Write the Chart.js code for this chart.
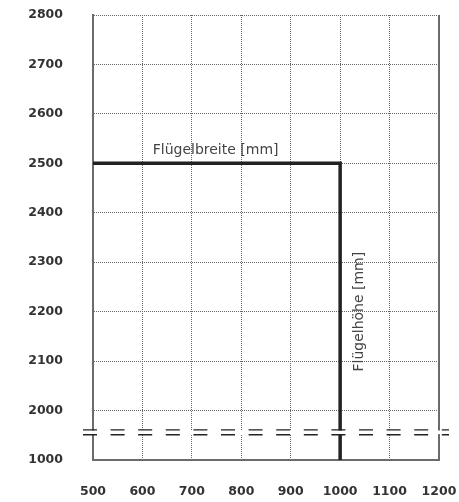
<!DOCTYPE html>
<html>
<head>
<meta charset="utf-8">
<script src="https://cdn.jsdelivr.net/npm/chart.js@4"></script>
<style>
  html, body { margin: 0; padding: 0; background: #fff; }
  #wrap { width: 459px; height: 502px; position: relative; }
</style>
</head>
<body>
<div id="wrap"><canvas id="c" width="459" height="502"></canvas></div>
<script>
// ---- data ----
const xTickValues = [500, 600, 700, 800, 900, 1000, 1100, 1200];
const yLabels = ['2800', '2700', '2600', '2500', '2400', '2300', '2200', '2100', '2000', '1000'];
const breiteValues = [500, 1000, 1000];          // Flügelbreite [mm]
const hoeheValues = ['2500', '2500', '1000'];    // Flügelhöhe [mm]
const labelBreite = 'Flügelbreite [mm]';
const labelHoehe = 'Flügelhöhe [mm]';

const tickFont = { family: '"DejaVu Sans", sans-serif', size: 12.5, weight: 'bold' };
const gridColor = '#666';
const axisColor = '#6b6b6b';

const overlayPlugin = {
  id: 'overlay',
  afterDraw(chart) {
    const ctx = chart.ctx;
    const xs = chart.scales.x, ys = chart.scales.y;
    const area = chart.chartArea;
    ctx.save();
    // right border (solid)
    ctx.strokeStyle = axisColor;
    ctx.lineWidth = 2;
    ctx.beginPath();
    ctx.moveTo(area.right, area.top);
    ctx.lineTo(area.right, area.bottom);
    ctx.stroke();

    // axis labels
    ctx.fillStyle = '#444';
    ctx.font = '14px "DejaVu Sans", sans-serif';
    ctx.textAlign = 'center';
    ctx.textBaseline = 'alphabetic';
    ctx.fillText(labelBreite, xs.getPixelForValue(748), ys.getPixelForValue('2500') - 9);

    ctx.save();
    ctx.translate(xs.getPixelForValue(1000) + 19, ys.getPixelForValue(6.0));
    ctx.rotate(-Math.PI / 2);
    ctx.textBaseline = 'middle';
    ctx.fillText(labelHoehe, 0, 0);
    ctx.restore();

    // axis break
    const p8 = ys.getPixelForValue(8), p9 = ys.getPixelForValue(9);
    const y1 = p8 + 0.39 * (p9 - p8);
    const y2 = p8 + 0.49 * (p9 - p8);
    ctx.fillStyle = '#fff';
    ctx.fillRect(78, y1 + 0.7, 380, (y2 - y1) - 1.4);
    ctx.strokeStyle = '#222';
    ctx.lineWidth = 1.4;
    ctx.setLineDash([14, 13.6]);
    [y1, y2].forEach(y => {
      ctx.beginPath();
      ctx.moveTo(83, y);
      ctx.lineTo(449, y);
      ctx.stroke();
    });
    ctx.restore();
  }
};

new Chart(document.getElementById('c'), {
  type: 'line',
  data: {
    datasets: [{
      data: breiteValues.map((x, i) => ({ x: x, y: hoeheValues[i] })),
      borderColor: '#222',
      borderWidth: 3.5,
      pointRadius: 0,
      tension: 0,
      fill: false,
      borderJoinStyle: 'miter'
    }]
  },
  options: {
    responsive: false,
    animation: false,
    devicePixelRatio: 1,
    layout: { padding: { top: 15, right: 20, left: 0, bottom: 0 } },
    plugins: { legend: { display: false }, tooltip: { enabled: false } },
    scales: {
      x: {
        type: 'linear',
        min: 500,
        max: 1200,
        afterBuildTicks(scale) { scale.ticks = xTickValues.map(v => ({ value: v })); },
        afterFit(scale) {
          scale.height = 42;
          scale.paddingLeft = 0; scale.paddingRight = 0;
          scale.paddingTop = 0; scale.paddingBottom = 0;
        },
        ticks: { font: tickFont, color: '#333', padding: 24, autoSkip: false, maxRotation: 0,
                 callback: v => String(v) },
        grid: { color: gridColor, lineWidth: 1, drawTicks: false },
        border: { color: axisColor, width: 2, dash: [1, 1] }
      },
      y: {
        type: 'category',
        labels: yLabels,
        offset: false,
        afterFit(scale) {
          scale.width = 93;
          scale.paddingLeft = 0; scale.paddingRight = 0;
          scale.paddingTop = 0; scale.paddingBottom = 0;
        },
        ticks: { font: tickFont, color: '#333', padding: 30, autoSkip: false },
        grid: { color: gridColor, lineWidth: 1, drawTicks: false, offset: false },
        border: { color: axisColor, width: 2, dash: [1, 1] }
      }
    }
  },
  plugins: [overlayPlugin]
});
</script>
</body>
</html>
